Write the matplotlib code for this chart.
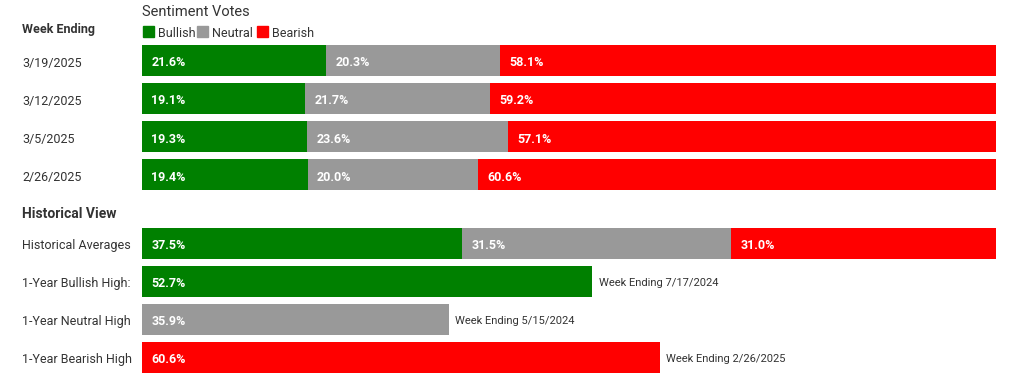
import matplotlib.pyplot as plt
import matplotlib.transforms as mtrans
from matplotlib.patches import Rectangle

plt.rcParams['font.family'] = ['Roboto', 'DejaVu Sans']

# weekly sentiment
weeks = ['3/19/2025', '3/12/2025', '3/5/2025', '2/26/2025']
bullish = [21.6, 19.1, 19.3, 19.4]
neutral = [20.3, 21.7, 23.6, 20.0]
bearish = [58.1, 59.2, 57.1, 60.6]

# historical view
hist_avg = [37.5, 31.5, 31.0]
high_labels = ['1-Year Bullish High:', '1-Year Neutral High', '1-Year Bearish High']
high_values = [52.7, 35.9, 60.6]
high_weeks = ['Week Ending 7/17/2024', 'Week Ending 5/15/2024', 'Week Ending 2/26/2025']

GREEN = '#008000'
GRAY = '#999999'
RED = '#ff0000'
TXT = '#333333'
colors = [GREEN, GRAY, RED]

W, H = 1024, 377
fig = plt.figure(figsize=(W / 100, H / 100), dpi=100)
ax = fig.add_axes([142 / W, 0, 854 / W, 1])
ax.set_xlim(0, 100)
ax.set_ylim(H, 0)
ax.axis('off')

bar_h = 31
lab_x = 22 / W
lab_tr = mtrans.blended_transform_factory(fig.transFigure, ax.transData)
VA = 'center_baseline'


def seg_label(x, y, v):
    ax.text(x + 1.1, y + 1, f'{v:.1f}%', color='white', fontsize=9, fontweight='bold',
            va=VA, ha='left')


# weekly rows
for i, wk in enumerate(weeks):
    y = 60 + i * 38.3
    left = 0
    for v, c in zip([bullish[i], neutral[i], bearish[i]], colors):
        ax.barh(y, v, left=left, height=bar_h, color=c)
        seg_label(left, y, v)
        left += v
    ax.text(lab_x, y + 1.5, wk, transform=lab_tr, fontsize=9, color=TXT, va=VA)

# historical averages
y = 243
left = 0
for v, c in zip(hist_avg, colors):
    ax.barh(y, v, left=left, height=bar_h, color=c)
    seg_label(left, y, v)
    left += v
ax.text(lab_x, y + 1.5, 'Historical Averages', transform=lab_tr, fontsize=9, color=TXT, va=VA)

# 1-year highs
for i, (lab, v, wk) in enumerate(zip(high_labels, high_values, high_weeks)):
    y = 281 + i * 38
    ax.barh(y, v, height=bar_h, color=colors[i])
    seg_label(0, y, v)
    ax.text(v + 0.8, y + 1, wk, fontsize=8, color=TXT, va=VA)
    ax.text(lab_x, y + 1.5, lab, transform=lab_tr, fontsize=9, color=TXT, va=VA)

# headers
ax.text(lab_x, 28, 'Week Ending', transform=lab_tr, fontsize=9, fontweight='bold',
        color=TXT, va=VA)
ax.text(lab_x, 213, 'Historical View', transform=lab_tr, fontsize=10, fontweight='bold',
        color=TXT, va=VA)
ax.text(0, 11, 'Sentiment Votes', fontsize=10.5, color=TXT, va=VA)

# legend
leg_items = [('Bullish', GREEN, 143), ('Neutral', GRAY, 197), ('Bearish', RED, 257)]
for name, c, px in leg_items:
    fig.patches.append(Rectangle((px / W, 1 - 37 / H), 11 / W, 11 / H,
                                 transform=fig.transFigure, color=c))
    fig.text((px + 15) / W, 1 - 32 / H, name, fontsize=9, color=TXT, va=VA)

fig.savefig('out.png', dpi=100)
